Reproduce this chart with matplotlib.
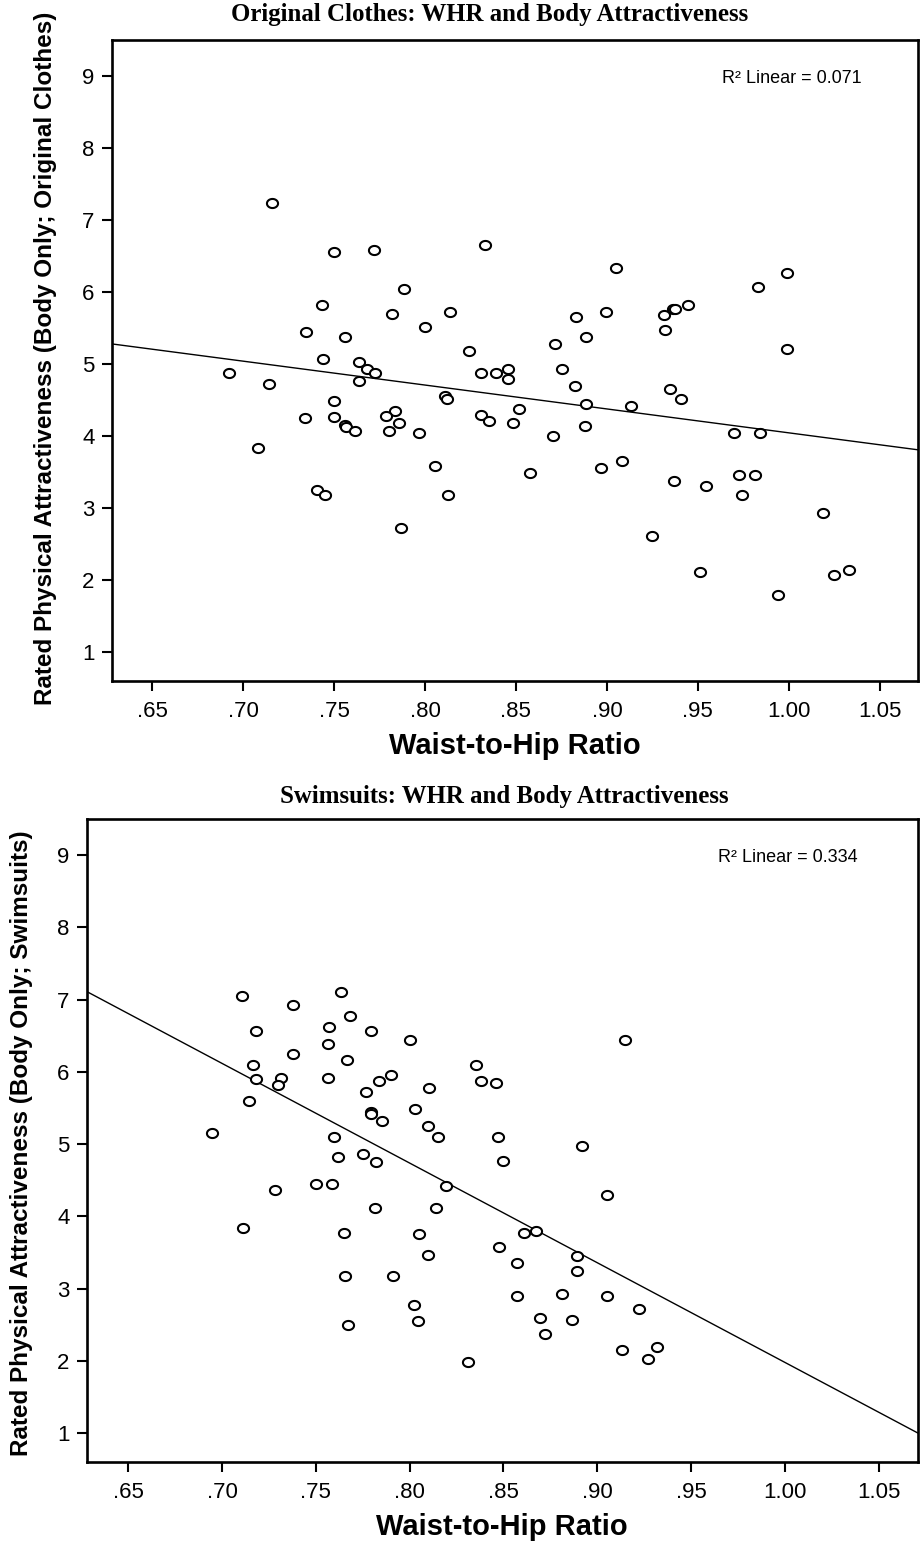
import matplotlib
matplotlib.use("Agg")
import matplotlib.pyplot as plt
import numpy as np
from matplotlib.path import Path

# ---------------- data ----------------
clothes_whr = [0.716, 0.750, 0.772, 0.7436, 0.7348, 0.756, 0.744, 0.7636, 0.768, 0.7728,
               0.6924, 0.7145, 0.764, 0.750, 0.7342, 0.750, 0.756, 0.7566, 0.7618, 0.7083,
               0.7408, 0.745, 0.833, 0.905, 0.7885, 0.7819, 0.8135, 0.7998, 0.883, 0.8997,
               0.8887, 0.8716, 0.8243, 0.8307, 0.8389, 0.8457, 0.8457, 0.8753, 0.8824, 0.8113,
               0.812, 0.8884, 0.9134, 0.8519, 0.7838, 0.7788, 0.786, 0.7803, 0.8309, 0.835,
               0.8482, 0.7967, 0.888, 0.8703, 0.8054, 0.8577, 0.8968, 0.9085, 0.8128, 0.787,
               0.999, 0.983, 0.9445, 0.9363, 0.9374, 0.9313, 0.9317, 0.999, 0.9347, 0.941,
               0.9697, 0.9841, 0.9367, 0.9544, 0.9728, 0.9816, 0.9743, 1.0188, 0.925, 0.951,
               1.025, 1.0333, 0.994]
clothes_rating = [7.23, 6.55, 6.59, 5.82, 5.45, 5.38, 5.07, 5.03, 4.93, 4.87,
                  4.87, 4.73, 4.76, 4.49, 4.25, 4.27, 4.16, 4.13, 4.07, 3.83,
                  3.25, 3.18, 6.65, 6.34, 6.04, 5.69, 5.72, 5.52, 5.65, 5.72,
                  5.38, 5.28, 5.18, 4.87, 4.87, 4.93, 4.79, 4.93, 4.69, 4.56,
                  4.51, 4.45, 4.42, 4.38, 4.35, 4.28, 4.18, 4.07, 4.30, 4.21,
                  4.18, 4.04, 4.14, 4.00, 3.59, 3.49, 3.56, 3.65, 3.18, 2.73,
                  6.27, 6.07, 5.82, 5.76, 5.76, 5.68, 5.48, 5.21, 4.66, 4.51,
                  4.04, 4.04, 3.38, 3.31, 3.46, 3.46, 3.18, 2.93, 2.62, 2.11,
                  2.07, 2.14, 1.79]

swim_whr = [0.7106, 0.7635, 0.738, 0.7684, 0.7179, 0.7569, 0.7795, 0.7564, 0.738, 0.7665,
            0.7163, 0.7181, 0.7316, 0.7297, 0.7565, 0.7835, 0.7765, 0.7795, 0.7795, 0.7854,
            0.7145, 0.6947, 0.7597, 0.762, 0.7752, 0.7818, 0.7503, 0.7587, 0.7284, 0.7816,
            0.7113, 0.7649, 0.7656, 0.7674,
            0.8003, 0.9148, 0.8354, 0.8379, 0.8461, 0.7902, 0.8103, 0.8026, 0.8098, 0.8151,
            0.8472, 0.892, 0.850, 0.8192, 0.905, 0.814, 0.861, 0.8674, 0.8478, 0.805,
            0.8098, 0.8891, 0.8891, 0.8571, 0.7909, 0.8571, 0.8811, 0.905, 0.9224, 0.8021,
            0.8044, 0.8697, 0.8863, 0.8724, 0.913, 0.9273, 0.932, 0.8313]
swim_rating = [7.05, 7.10, 6.92, 6.77, 6.57, 6.62, 6.57, 6.38, 6.25, 6.17,
               6.09, 5.90, 5.92, 5.82, 5.92, 5.88, 5.72, 5.45, 5.42, 5.32,
               5.60, 5.15, 5.10, 4.82, 4.87, 4.75, 4.45, 4.45, 4.37, 4.12,
               3.84, 3.77, 3.17, 2.49,
               6.44, 6.44, 6.09, 5.87, 5.85, 5.95, 5.77, 5.48, 5.25, 5.10,
               5.10, 4.98, 4.77, 4.42, 4.29, 4.12, 3.77, 3.80, 3.58, 3.75,
               3.47, 3.45, 3.24, 3.35, 3.18, 2.90, 2.93, 2.90, 2.72, 2.77,
               2.55, 2.60, 2.57, 2.37, 2.15, 2.02, 2.19, 1.99]

# fit lines (end points across the axis range)
clothes_fit_x = [0.628, 1.071]
clothes_fit_y = [5.28, 3.81]
swim_fit_x = [0.628, 1.071]
swim_fit_y = [7.11, 1.00]

x_ticks = [0.65, 0.70, 0.75, 0.80, 0.85, 0.90, 0.95, 1.00, 1.05]
x_tick_labels = [".65", ".70", ".75", ".80", ".85", ".90", ".95", "1.00", "1.05"]
y_ticks = [1, 2, 3, 4, 5, 6, 7, 8, 9]

W, H = 921, 1546
fig = plt.figure(figsize=(W / 100, H / 100), dpi=100)
plt.rcParams["font.family"] = ["Liberation Sans", "DejaVu Sans"]

# slightly squashed circle like the SPSS marker
t = np.linspace(0, 2 * np.pi, 41)
ellipse = Path(np.column_stack([np.cos(t), 0.82 * np.sin(t)]), closed=True)


def px_axes(left, top, right, bottom):
    return fig.add_axes([left / W, 1 - bottom / H, (right - left) / W, (bottom - top) / H])


def fx(x):
    return x / W


def fy(y):
    return 1 - y / H


def draw_panel(ax, whr, rating, fit_x, fit_y, r2_text):
    ax.plot(fit_x, fit_y, color="black", lw=1.0, zorder=2)
    ax.plot(whr, rating, linestyle="none", marker=ellipse, ms=8.0,
            mfc="white", mec="black", mew=1.5, zorder=3)
    ax.set_xlim(0.628, 1.071)
    ax.set_ylim(0.6, 9.5)
    ax.set_xticks(x_ticks)
    ax.set_xticklabels(x_tick_labels)
    ax.set_yticks(y_ticks)
    ax.tick_params(axis="both", direction="out", length=7.5, width=1.5,
                   labelsize=16)
    ax.tick_params(axis="x", pad=7)
    ax.tick_params(axis="y", pad=5)
    for sp in ax.spines.values():
        sp.set_linewidth(1.9)
    ax.text(0.843, 0.94, r2_text, transform=ax.transAxes, ha="center",
            va="center", fontsize=13)


# ---------------- top panel ----------------
ax1 = px_axes(112, 40, 918, 681)
draw_panel(ax1, clothes_whr, clothes_rating, clothes_fit_x, clothes_fit_y,
           "R² Linear = 0.071")
fig.text(fx(490), fy(14), "Original Clothes: WHR and Body Attractiveness",
         family="Liberation Serif", fontweight="bold", fontsize=17.9,
         ha="center", va="center")
fig.text(fx(515), fy(746), "Waist-to-Hip Ratio", fontweight="bold",
         fontsize=21, ha="center", va="center")
fig.text(fx(46), fy(358), "Rated Physical Attractiveness (Body Only; Original Clothes)",
         fontweight="bold", fontsize=17.5, rotation=90, ha="center", va="center")

# ---------------- bottom panel ----------------
ax2 = px_axes(87, 819, 918, 1462)
draw_panel(ax2, swim_whr, swim_rating, swim_fit_x, swim_fit_y,
           "R² Linear = 0.334")
fig.text(fx(504), fy(797), "Swimsuits: WHR and Body Attractiveness",
         family="Liberation Serif", fontweight="bold", fontsize=17.9,
         ha="center", va="center")
fig.text(fx(502), fy(1527), "Waist-to-Hip Ratio", fontweight="bold",
         fontsize=21, ha="center", va="center")
fig.text(fx(22), fy(1143), "Rated Physical Attractiveness (Body Only; Swimsuits)",
         fontweight="bold", fontsize=17.5, rotation=90, ha="center", va="center")

fig.savefig("out.png", dpi=100)
